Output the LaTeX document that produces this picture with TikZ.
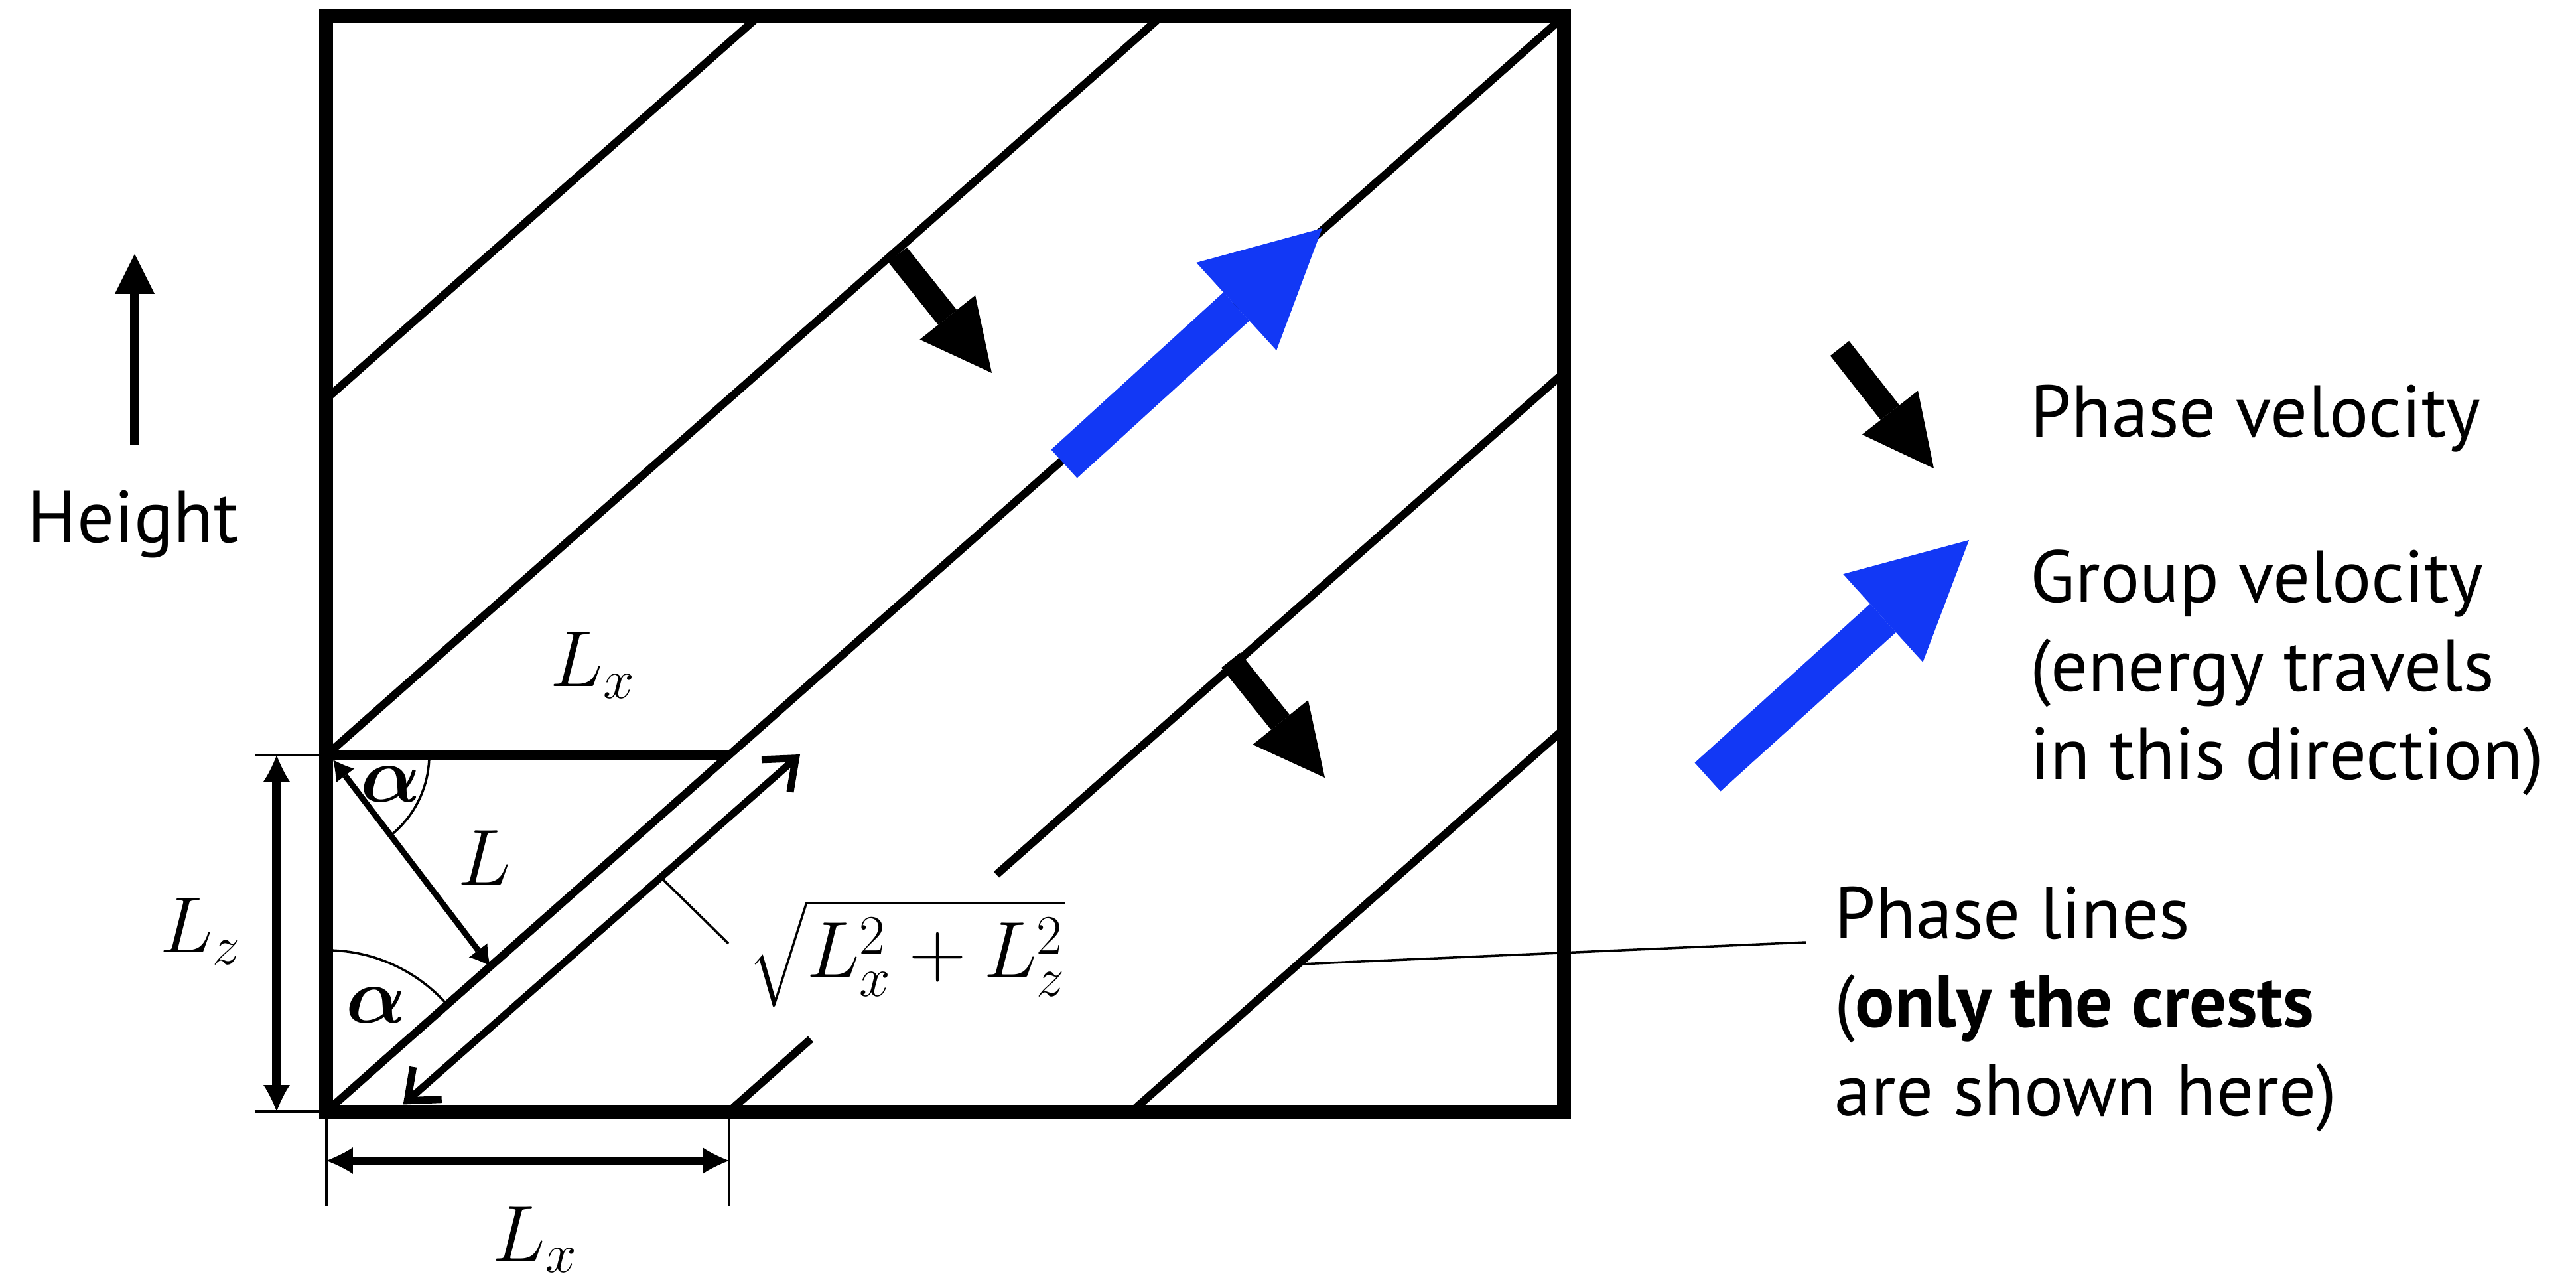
\RequirePackage{fix-cm}
\documentclass[tikz,border=0pt]{standalone}
\usepackage[no-math]{fontspec}
\setmainfont{PT Sans}
\usepackage{exscale}
\usepackage{bm}
\usepackage{tikz}
\usetikzlibrary{arrows.meta}
\definecolor{groupBlue}{HTML}{1238F5}

\begin{document}
\begin{tikzpicture}[
  every node/.style={inner sep=0pt},
  txt/.style={font=\fontsize{31.5}{38}\selectfont,align=left},
  sym/.style={font=\fontsize{34}{40}\selectfont},
  frame/.style={line width=2.1mm},
  crest/.style={line width=1.2mm},
  ext/.style={line width=0.35mm},
  dim/.style={{Latex[length=4mm,width=4mm,line width=0pt]}-{Latex[length=4mm,width=4mm,line width=0pt]},line width=1.3mm},
  len/.style={{Latex[length=3mm,width=3.5mm,line width=0pt]}-{Latex[length=3mm,width=3.5mm,line width=0pt]},line width=0.9mm},
  hypot/.style={{Straight Barb[length=4mm,width=6.5mm]}-{Straight Barb[length=4mm,width=6.5mm]},line width=1.1mm},
  pv/.style={-{Triangle[length=10.7mm,width=10.7mm,line width=0pt]},line width=3.6mm},
  gv/.style={groupBlue,-{Triangle[length=17.5mm,width=17.9mm,line width=0pt]},line width=5.8mm},
]
\useasboundingbox (-4.92,-2.59) rectangle (33.91,16.75);

% Box corners and the Lx / Lz cell
\coordinate (O)  at (0,0);
\coordinate (TR) at (18.65,16.5);
\coordinate (A)  at (0,5.37);
\coordinate (B)  at (6.07,0);
\coordinate (C)  at (6.07,5.37);

% Phase lines (crests)
\draw[crest] (0,10.74) -- (6.51,16.5);
\draw[crest] (A) -- (12.58,16.5);
\draw[crest] (O) -- (TR);
\draw[crest] (B) -- (7.30,1.09);
\draw[crest] (10.10,3.57) -- (18.65,11.13);
\draw[crest] (12.14,0) -- (18.65,5.76);
\draw[line width=1.45mm] (A) -- (C);
\draw[frame] (O) rectangle (TR);

% Angles and lengths in the corner cell
\draw[ext] (1.55,5.37) arc[start angle=0,end angle=-52,radius=1.55];
\draw[ext] (0,2.43) arc[start angle=90,end angle=41.5,radius=2.43];
\node[sym] (al1) at (0.97,4.93) {$\bm{\alpha}$};
\node[sym] (al2) at (0.75,1.60) {$\bm{\alpha}$};

\coordinate (Ltop) at (0.10,5.30);
\coordinate (Lfoot) at (2.47,2.19);
\draw[len] (Ltop) -- (Lfoot);
\node[sym,anchor=base west] (Ltxt) at (1.98,3.41) {$L$};

\coordinate (H0) at (1.157,0.105);
\coordinate (H1) at (7.14,5.38);
\draw[hypot] (H0) -- (H1);
\node[sym,anchor=base west] (hyp) at (6.36,2.03) {$\sqrt{L_x^2+L_z^2}$};
\coordinate (hypfoot) at (5.04,3.53);
\draw[ext] (hypfoot) -- (6.06,2.53);

\node[sym,anchor=base west] (Lxtop) at (3.37,6.40) {$L_x$};

% Dimension lines
\draw[ext] (-1.08,5.37) -- (A);
\draw[ext] (-1.08,0) -- (O);
\draw[dim] (-0.75,5.37) -- (-0.75,0);
\node[sym,anchor=base east] (Lz) at (-1.27,2.39) {$L_z$};

\draw[ext] (O) -- (0,-1.42);
\draw[ext] (B) -- (6.07,-1.42);
\draw[dim] (0,-0.74) -- (6.07,-0.74);
\node[sym,anchor=base west] (Lxbot) at (2.50,-2.25) {$L_x$};

% Height
\coordinate (up0) at (-2.89,10.05);
\coordinate (up1) at (-2.89,12.92);
\draw[line width=1.3mm,-{Triangle[length=6mm,width=6mm,line width=0pt]}] (up0) -- (up1);
\node[txt,anchor=base west] (height) at (-4.51,8.57) {Height};

% Velocities in the box
\coordinate (pv1a) at (8.61,12.91);
\coordinate (pv1b) at (10.03,11.13);
\draw[pv] (pv1a) -- (pv1b);
\coordinate (pv2a) at (13.63,6.80);
\coordinate (pv2b) at (15.05,5.03);
\draw[pv] (pv2a) -- (pv2b);
\coordinate (gva) at (11.12,9.76);
\coordinate (gvb) at (15.01,13.31);
\draw[gv] (gva) -- (gvb);

% Legend
\coordinate (lpa) at (22.81,11.50);
\coordinate (lpb) at (24.23,9.69);
\draw[pv] (lpa) -- (lpb);
\node[txt,anchor=base west] (pvtxt) at (25.68,10.16) {Phase velocity};

\coordinate (lga) at (20.82,5.04);
\coordinate (lgb) at (24.76,8.61);
\draw[gv] (lga) -- (lgb);
\node[txt,anchor=north west] (gvtxt) at (25.68,8.47) {Group velocity\\(energy travels\\in this direction)};

\node[txt,anchor=north west] (pltxt) at (22.73,3.40) {Phase lines\\(\textbf{only the crests}\\are shown here)};
\coordinate (crestpt) at (14.67,2.22);
\draw[ext] (crestpt) -- (22.30,2.55);
\end{tikzpicture}
\end{document}
